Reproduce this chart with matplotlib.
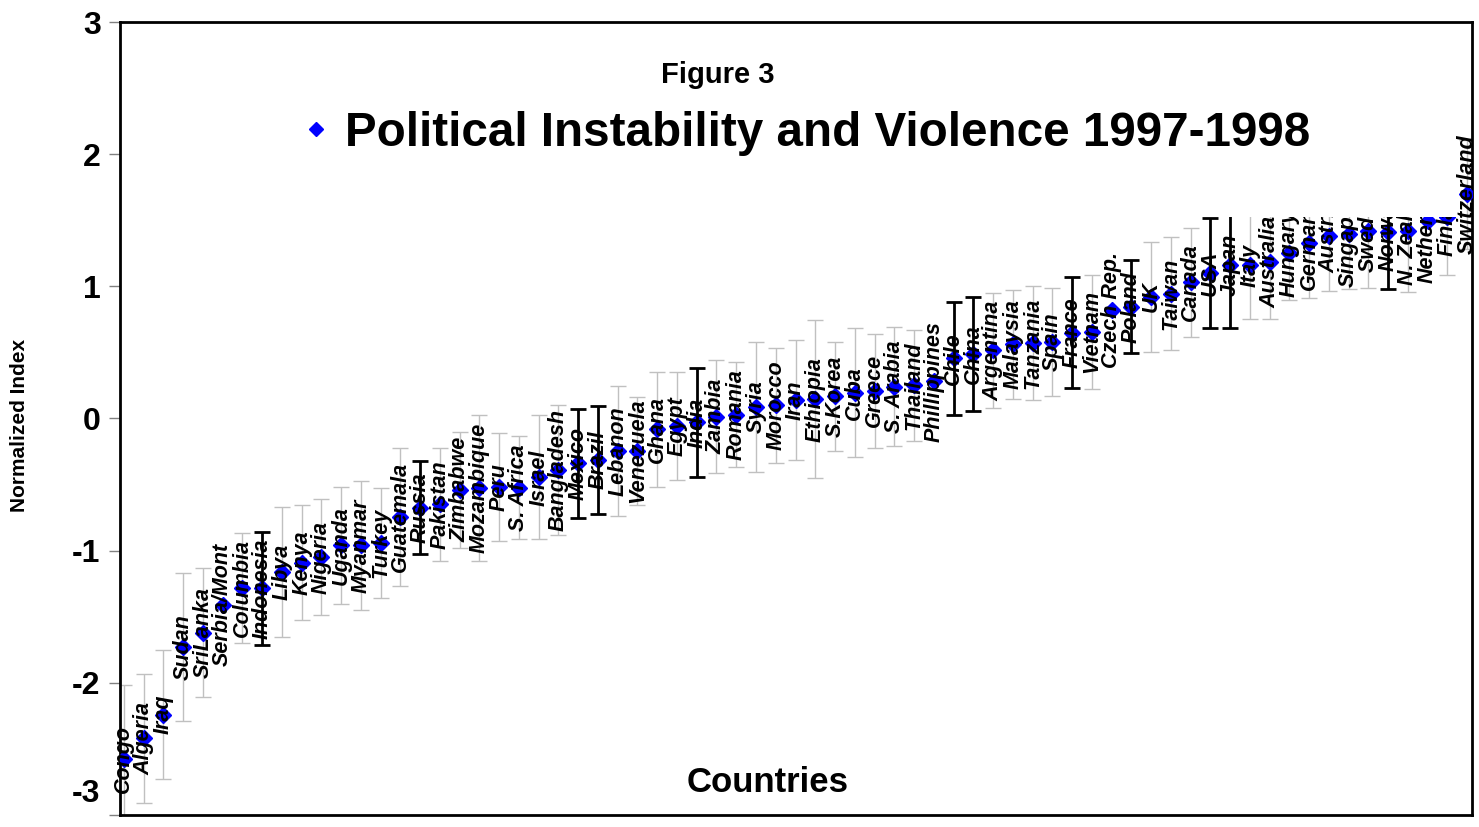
import numpy as np
import matplotlib
matplotlib.use('Agg')
import matplotlib.pyplot as plt
from matplotlib.lines import Line2D
from matplotlib.patches import Rectangle
from matplotlib.transforms import ScaledTranslation

plt.rcParams['font.family'] = ['Liberation Sans', 'DejaVu Sans']
plt.rcParams['axes.unicode_minus'] = False

countries = ['Congo', 'Algeria', 'Iraq', 'Sudan', 'SriLanka', 'Serbia/Mont', 'Columbia',
             'Indonesia', 'Libya', 'Kenya', 'Nigeria', 'Uganda', 'Myanmar', 'Turkey',
             'Guatemala', 'Russia', 'Pakistan', 'Zimbabwe', 'Mozambique', 'Peru', 'S. Africa',
             'Israel', 'Bangladesh', 'Mexico', 'Brazil', 'Lebanon', 'Venezuela', 'Ghana',
             'Egypt', 'India', 'Zambia', 'Romania', 'Syria', 'Morocco', 'Iran', 'Ethiopia',
             'S.Korea', 'Cuba', 'Greece', 'S. Arabia', 'Thailand', 'Phillippines', 'Chile',
             'China', 'Argentina', 'Malaysia', 'Tanzania', 'Spain', 'France', 'Vietnam',
             'Czech Rep.', 'Poland', 'UK', 'Taiwan', 'Canada', 'USA', 'Japan', 'Italy',
             'Australia', 'Hungary', 'Germany', 'Austria', 'Singapore', 'Sweden', 'Norway',
             'N. Zealand', 'Netherlands', 'Finland', 'Switzerland']

index = [-2.58, -2.42, -2.24, -1.73, -1.62, -1.41, -1.285,
         -1.285, -1.16, -1.09, -1.05, -0.96, -0.96, -0.94,
         -0.745, -0.675, -0.65, -0.54, -0.525, -0.52, -0.525,
         -0.445, -0.39, -0.34, -0.315, -0.246, -0.246, -0.08,
         -0.057, -0.03, 0.015, 0.03, 0.088, 0.10, 0.14, 0.147,
         0.167, 0.195, 0.21, 0.24, 0.25, 0.28, 0.455,
         0.49, 0.515, 0.56, 0.57, 0.58, 0.65, 0.655,
         0.82, 0.845, 0.92, 0.945, 1.03, 1.098, 1.161, 1.16,
         1.186, 1.25, 1.325, 1.38, 1.393, 1.42, 1.413,
         1.42, 1.496, 1.522, 1.696]

# half width of the confidence band (nan = no bar shown)
err = [0.56, 0.49, 0.49, 0.56, 0.49, np.nan, 0.415,
       0.43, 0.49, 0.435, 0.44, 0.44, 0.49, 0.415,
       0.52, 0.35, 0.43, 0.44, 0.55, 0.41, 0.39,
       0.47, 0.49, 0.415, 0.41, 0.49, 0.41, 0.435,
       0.41, 0.41, 0.43, 0.40, 0.49, 0.435, 0.455, 0.60,
       0.41, 0.49, 0.43, 0.45, 0.42, np.nan, 0.43,
       0.43, 0.435, 0.41, 0.43, 0.41, 0.417, 0.43,
       np.nan, 0.353, 0.416, 0.43, 0.41, 0.416, 0.48, 0.41,
       0.43, 0.35, 0.416, 0.416, 0.416, 0.435, 0.43,
       0.46, np.nan, 0.437, 0.41]

highlighted = ['Indonesia', 'Russia', 'Mexico', 'Brazil', 'India', 'Chile', 'China',
               'France', 'Poland', 'USA', 'Japan', 'Norway']

x = np.arange(1, len(countries) + 1)
y = np.array(index)
e = np.array(err)
hl = np.array([c in highlighted for c in countries])

fig = plt.figure(figsize=(14.79, 8.27), dpi=100)
ax = fig.add_axes([120/1479, 1 - 815/827, 1352/1479, 793/827])

# grey bars for most, black for the highlighted ones
ax.errorbar(x[~hl], y[~hl], yerr=e[~hl], fmt='none', ecolor='#c0c0c0',
            elinewidth=1, capsize=5.5, capthick=1, zorder=2)
ax.errorbar(x[hl], y[hl], yerr=e[hl], fmt='none', ecolor='black',
            elinewidth=2, capsize=5.5, capthick=2, zorder=5)
ax.plot(x, y, linestyle='none', marker='D', markersize=8, color='#0000ff',
        markeredgecolor='#0000ff', zorder=3)

for xi, yi, name in zip(x, y, countries):
    ax.text(xi, yi, name, rotation=90, ha='center', va='center',
            fontsize=15.5, fontweight='bold', fontstyle='italic', zorder=4)

ax.set_xlim(0.8, 69.25)
ax.set_ylim(-3, 3)
ax.set_yticks(range(-3, 4))
ax.set_xticks([])
ax.tick_params(axis='y', direction='out', length=8, width=1, color='#808080',
               pad=6, labelsize=23)
for lab in ax.get_yticklabels():
    lab.set_fontweight('bold')
# lowest label sits a little higher, as in the original
low = ax.get_yticklabels()[0]
low.set_transform(low.get_transform() + ScaledTranslation(0, 18/72, fig.dpi_scale_trans))
for s in ax.spines.values():
    s.set_linewidth(2)
    s.set_color('black')

# white legend box hiding the upper part of the bars
ax.add_patch(Rectangle((0.129, 0.754), 0.859, 0.16, transform=ax.transAxes,
                       facecolor='white', edgecolor='none', zorder=6))

handle = Line2D([], [], linestyle='none', marker='D', markersize=7.5, color='#0000ff')
leg = fig.legend(handles=[handle], labels=['Political Instability and Violence 1997-1998'],
                 loc='center left', bbox_to_anchor=(302/1479, 1 - 133/827),
                 frameon=False, handlelength=0.6, handletextpad=0.3, borderpad=0,
                 borderaxespad=0, prop={'size': 34.3, 'weight': 'bold'})
leg.set_zorder(7)

fig.text(718/1479, 1 - 75/827, 'Figure 3', ha='center', va='center',
         fontsize=21, fontweight='bold')
fig.text(768/1479, 1 - 782/827, 'Countries', ha='center', va='center',
         fontsize=25, fontweight='bold')
fig.text(20/1479, 1 - 425/827, 'Normalized Index', ha='center', va='center',
         rotation=90, fontsize=15, fontweight='bold')

fig.savefig('out.png', dpi=100)
